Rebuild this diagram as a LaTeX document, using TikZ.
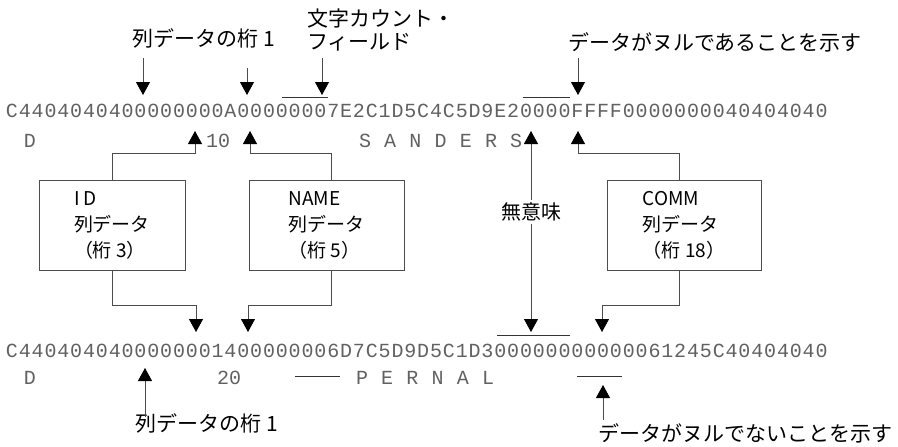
\documentclass[tikz,border=0pt]{standalone}
\usepackage{fontspec}
\newfontfamily\jpf{Noto Sans CJK JP}
\newfontfamily\hexf{Liberation Mono}
\usetikzlibrary{arrows.meta}
\begin{document}
\begin{tikzpicture}[x=1pt,y=-1pt,
  arr/.style={draw=black!70, line width=0.9pt, -{Triangle[width=14pt,length=13pt,black]}},
  ln/.style={draw=black!80, line width=0.9pt},
  hexch/.style={inner sep=0pt, anchor=base, font=\hexf\fontsize{20}{20}\selectfont, text=black!62},
  lbl/.style={inner sep=0pt, font=\jpf\fontsize{21}{23}\selectfont},
  colbox/.style={draw=black!70, line width=1pt, minimum height=90pt, align=left, font=\jpf\fontsize{19}{26}\selectfont, inner sep=0pt},
]
\useasboundingbox (0,0) rectangle (898,447);

% ---------- top labels ----------
\node[lbl] (lt1) at (204,38) {列データの桁 1};
\node[lbl, align=left, anchor=north west] (lt2) at (307,9) {文字カウント・\\フィールド};
\node[lbl] (lt3) at (715,42) {データがヌルであることを示す};

\coordinate (a1s) at (143,58);  \coordinate (a1e) at (143,95);
\coordinate (a2s) at (247,68);  \coordinate (a2e) at (247,95);
\coordinate (a3s) at (322,58);  \coordinate (a3e) at (322,95);
\coordinate (a4s) at (578,58);  \coordinate (a4e) at (578,95);
\draw[arr] (a1s) -- (a1e);
\draw[arr] (a2s) -- (a2e);
\draw[arr] (a3s) -- (a3e);
\draw[arr] (a4s) -- (a4e);
\draw[ln] (282,97) -- (328,97);
\draw[ln] (523,97) -- (570,97);

% ---------- top hex row ----------
\foreach \c [count=\i from 0] in {C,4,4,0,4,0,4,0,4,0,0,0,0,0,0,0,0,A,0,0,0,0,0,0,0,7,E,2,C,1,D,5,C,4,C,5,D,9,E,2,0,0,0,0,F,F,F,F,0,0,0,0,0,0,0,0,4,0,4,0,4,0,4,0}
  \node[hexch] (t\i) at ({12+12.85*\i},117) {\c};

% second row
\node[hexch] (r2d) at (30,147) {D};
\node[hexch] (r2a) at (212,147) {1};
\node[hexch] (r2b) at (224,147) {0};
\foreach \c [count=\i from 0] in {S,A,N,D,E,R,S}
  \node[hexch] (s\i) at ({365+25.2*\i},147) {\c};

% ---------- boxes ----------
\node[colbox, minimum width=146pt] (idb) at (112,225) {I D\\列データ\\（桁 3）};
\node[colbox, minimum width=155pt] (nameb) at (326.5,225) {NAME\\列データ\\（桁 5）};
\node[colbox, minimum width=154pt] (commb) at (684,225) {COMM\\列データ\\（桁 18）};

\coordinate (u1) at (195,131);
\coordinate (u2) at (250,131);
\coordinate (u3) at (578,131);
\coordinate (d1) at (196,332);
\coordinate (d2) at (248,332);
\coordinate (d3) at (602,332);

\draw[arr] (idb.north) -- ++(0,-26) -| (u1);
\draw[arr] ([xshift=4.5pt]nameb.north) -- ++(0,-26) -| (u2);
\draw[arr] ([xshift=-5pt]commb.north) -- ++(0,-26) -| (u3);
\draw[arr] (idb.south) -- ++(0,35) -| (d1);
\draw[arr] ([xshift=4.5pt]nameb.south) -- ++(0,35) -| (d2);
\draw[arr] ([xshift=-5pt]commb.south) -- ++(0,35) -| (d3);

% meaningless
\node[lbl, font=\jpf\fontsize{20}{22}\selectfont, inner ysep=3pt] (mu) at (531,212) {無意味};
\coordinate (m1) at (531,131);
\coordinate (m2) at (531,332);
\draw[arr] (mu.north) -- (m1);
\draw[arr] (mu.south) -- (m2);
\draw[ln] (497,335) -- (570,335);

% ---------- bottom hex row ----------
\foreach \c [count=\i from 0] in {C,4,4,0,4,0,4,0,4,0,0,0,0,0,0,0,1,4,0,0,0,0,0,0,0,6,D,7,C,5,D,9,D,5,C,1,D,3,0,0,0,0,0,0,0,0,0,0,0,0,6,1,2,4,5,C,4,0,4,0,4,0,4,0}
  \node[hexch] (b\i) at ({12+12.85*\i},357) {\c};

\node[hexch] (r4d) at (30,384) {D};
\node[hexch] (r4a) at (223,384) {2};
\node[hexch] (r4b) at (235,384) {0};
\draw[ln] (295,376) -- (340,376);
\foreach \c [count=\i from 0] in {P,E,R,N,A,L}
  \node[hexch] (p\i) at ({362+25.2*\i},384) {\c};
\draw[ln] (577,376) -- (622,376);

% ---------- bottom labels ----------
\node[lbl] (lb1) at (207,423) {列データの桁 1};
\node[lbl] (lb2) at (745,433) {データがヌルでないことを示す};
\coordinate (c1s) at (145,417); \coordinate (c1e) at (145,368);
\coordinate (c2s) at (603,420); \coordinate (c2e) at (603,385);
\draw[arr] (c1s) -- (c1e);
\draw[arr] (c2s) -- (c2e);
\end{tikzpicture}
\end{document}
